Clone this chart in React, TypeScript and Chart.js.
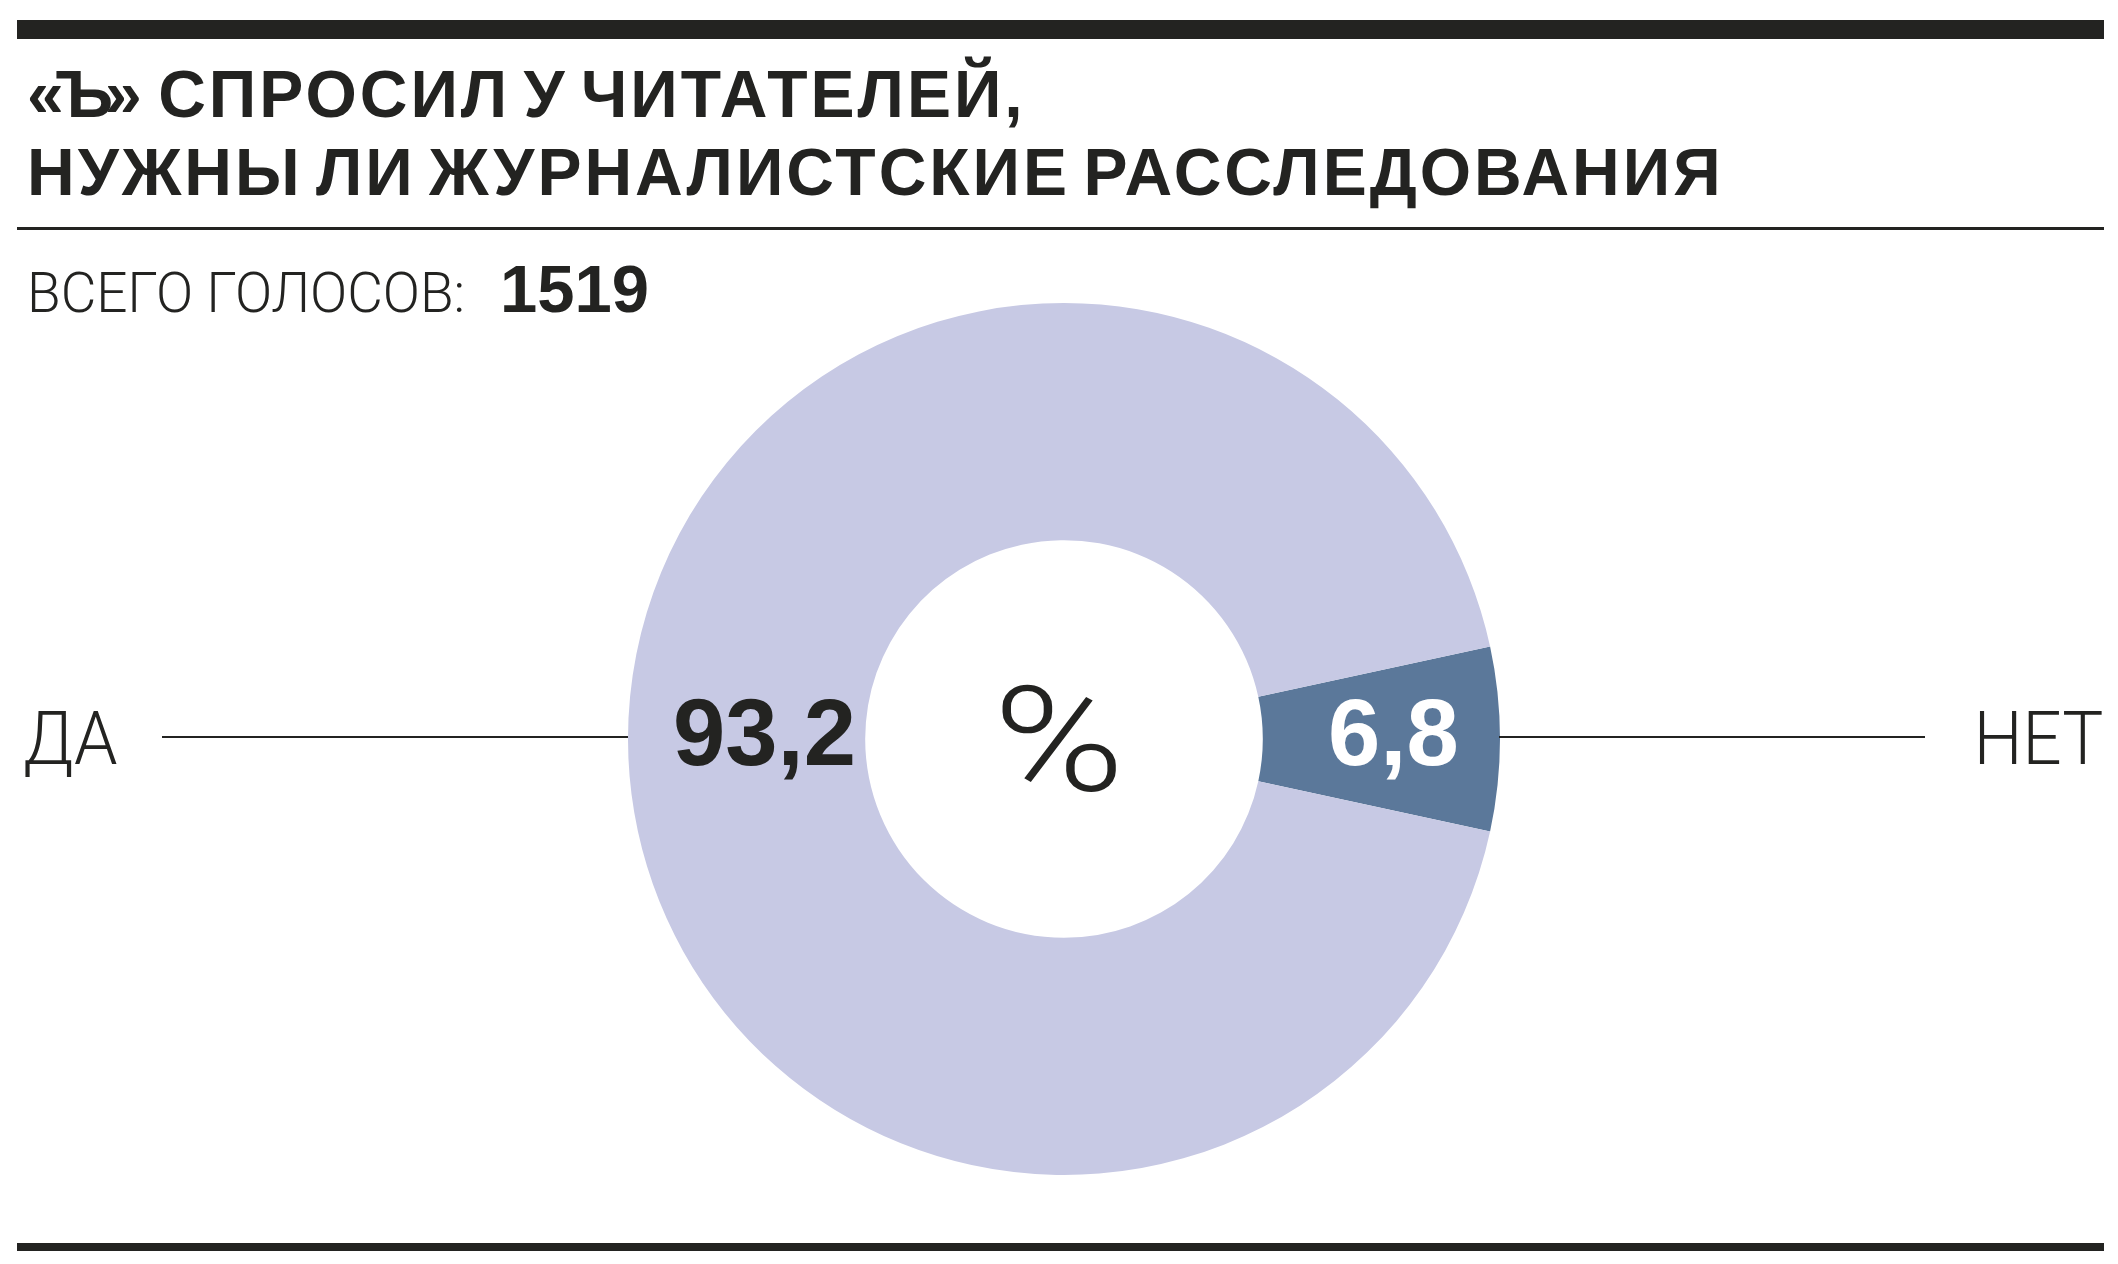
import React, { useEffect, useRef } from "react";
import { Chart, registerables } from "chart.js";

Chart.register(...registerables);

const categories = ["НЕТ", "ДА"];
const values = [6.8, 93.2];
const valueLabels = ["6,8", "93,2"];
const sliceColors = ["#5B789A", "#C7C9E4"];
const totalVotes = "1519";
const titleLogo = ["«Ъ", "»"];
const titleLines = [" СПРОСИЛ У ЧИТАТЕЛЕЙ,", "НУЖНЫ ЛИ ЖУРНАЛИСТСКИЕ РАССЛЕДОВАНИЯ"];

const INK = "#232321";
const BOLD = "'Liberation Sans', Arial, sans-serif";
const LIGHT = "Roboto, 'Noto Sans', sans-serif";

function Txt(props: {
  x: number;
  base: number;
  fs: number;
  children: any;
  bold?: boolean;
  color?: string;
  ls?: number;
  ws?: number;
  sx?: number;
  right?: boolean;
}) {
  const { x, base, fs, bold, color, ls, ws, sx, right } = props;
  const style: any = {
    position: "absolute",
    top: base - 0.845 * fs,
    fontSize: fs,
    lineHeight: 1,
    whiteSpace: "pre",
    fontFamily: bold ? BOLD : LIGHT,
    fontWeight: bold ? 700 : 300,
    color: color || INK,
    letterSpacing: ls || 0,
    wordSpacing: ws || 0,
    transform: sx ? `scaleX(${sx})` : undefined,
    transformOrigin: right ? "right center" : "left center",
  };
  if (right) style.right = 2118 - x;
  else style.left = x;
  return <div style={style}>{props.children}</div>;
}

export default function App() {
  const ref = useRef<HTMLCanvasElement | null>(null);

  useEffect(() => {
    document.body.style.margin = "0";
    if (!ref.current) return;
    const chart = new Chart(ref.current, {
      type: "doughnut",
      data: {
        labels: categories,
        datasets: [
          {
            data: values,
            backgroundColor: sliceColors,
            borderWidth: 0,
          },
        ],
      },
      options: {
        responsive: false,
        animation: false,
        rotation: 90 - (values[0] / 100) * 180,
        cutout: "45.6%",
        layout: { padding: 0 },
        plugins: { legend: { display: false }, tooltip: { enabled: false } },
      },
    });
    return () => chart.destroy();
  }, []);

  const bar = (top: number, h: number) => (
    <div style={{ position: "absolute", left: 17, width: 2087, top, height: h, background: INK }} />
  );

  return (
    <div style={{ position: "absolute", left: 0, top: 0, width: 2118, height: 1264, background: "#fff", overflow: "hidden" }}>
      {bar(20, 19)}
      <Txt x={27} base={117} fs={66} bold ls={3} ws={-8}>
        <span style={{ letterSpacing: -8 }}>{titleLogo[0]}</span>
        {titleLogo[1]}
        {titleLines[0]}
      </Txt>
      <Txt x={27} base={195} fs={66} bold ls={3} ws={-8}>{titleLines[1]}</Txt>
      {bar(227, 3)}
      <Txt x={27} base={312} fs={56} sx={0.98}>ВСЕГО ГОЛОСОВ:</Txt>
      <Txt x={500} base={312} fs={67} bold>{totalVotes}</Txt>

      <canvas ref={ref} width={872} height={872} style={{ position: "absolute", left: 628, top: 303, width: 872, height: 872 }} />

      <div style={{ position: "absolute", left: 162, width: 466, top: 736, height: 2, background: INK }} />
      <div style={{ position: "absolute", left: 1499, width: 426, top: 736, height: 2, background: INK }} />

      <Txt x={23} base={765} fs={74} sx={0.94}>{categories[1]}</Txt>
      <Txt x={2103} base={765} fs={74} sx={0.93} right>{categories[0]}</Txt>
      <Txt x={673} base={765} fs={94} bold>{valueLabels[1]}</Txt>
      <Txt x={1328} base={765} fs={94} bold color="#ffffff">{valueLabels[0]}</Txt>
      <Txt x={993} base={792} fs={146} sx={1.22}>%</Txt>

      {bar(1243, 8)}
    </div>
  );
}
